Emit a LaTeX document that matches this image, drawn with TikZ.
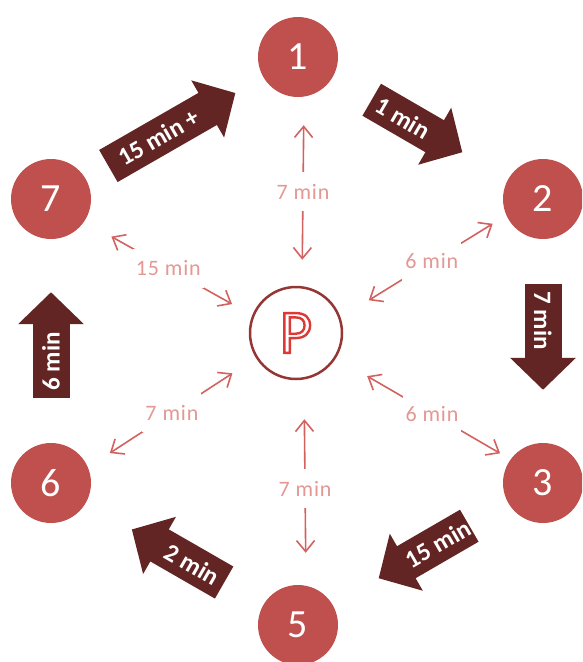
\documentclass[tikz,border=0pt]{standalone}
\usepackage{fontspec}
\setmainfont{Carlito}
\newfontfamily\walkfont[LetterSpace=4]{Carlito}
\usetikzlibrary{arrows.meta}
\definecolor{stopred}{HTML}{C0504D}
\definecolor{stepbrown}{HTML}{632523}
\definecolor{parkred}{HTML}{943634}
\definecolor{walkred}{HTML}{D2625F}
\definecolor{walktext}{HTML}{E39894}
\newcommand{\outlineglyph}[1]{\special{pdf:literal direct 2 Tr 2.4 w 0.863 0.227 0.212 RG}#1\special{pdf:literal direct 0 Tr}}
\tikzset{
  rtstop/.style={circle, fill=stopred, text=white, minimum size=80pt, inner sep=0pt, font=\fontsize{40}{44}\selectfont},
  rtpark/.style={circle, draw=parkred, line width=2.5pt, fill=white, minimum size=92pt, inner sep=0pt, text=white, font=\fontsize{62}{66}\selectfont},
  rtstep/.style={draw=stepbrown, line width=37pt, -{Triangle[length=32pt,width=64pt]}, shorten <=45pt, shorten >=53pt},
  rtsteptext/.style={sloped, text=white, font=\bfseries\fontsize{25}{28}\selectfont, inner sep=0pt},
  rtwalk/.style={draw=walkred, line width=1.6pt, {Straight Barb[length=11pt,width=18pt]}-{Straight Barb[length=11pt,width=18pt]}},
  rtlabel/.style={midway, fill=white, text=walktext, font=\walkfont\fontsize{22}{26}\selectfont, inner xsep=3pt, inner ysep=12pt},
}
\begin{document}
\begin{tikzpicture}[x=1pt,y=-1pt]
  \clip (0,0) rectangle (582,662);

  \node[rtstop] (s1) at (298,57) {1};
  \node[rtstop] (s2) at (543,199) {2};
  \node[rtstop] (s3) at (543,483) {3};
  \node[rtstop] (s5) at (298,625) {5};
  \node[rtstop] (s6) at (51,483) {6};
  \node[rtstop] (s7) at (51,199) {7};
  \node[rtpark] (park) at (296,333) {\outlineglyph{P}};

  \draw[rtstep, shorten <=26pt, shorten >=32pt] (s7) -- node[rtsteptext, pos=0.41] {15 min +} (s1);
  \draw[rtstep] (s1) -- node[rtsteptext, pos=0.40] {1 min} (s2);
  \draw[rtstep] (s2) -- node[rtsteptext, pos=0.40] {7 min} (s3);
  \draw[rtstep] (s3) -- node[rtsteptext, pos=0.40] {15 min} (s5);
  \draw[rtstep] (s5) -- node[rtsteptext, pos=0.40] {2 min} (s6);
  \draw[rtstep] (s6) -- node[rtsteptext, pos=0.40] {6 min} (s7);

  \draw[rtwalk, shorten <=26pt, shorten >=28pt] ([xshift=6pt]park.north) -- node[rtlabel] {7 min} ([xshift=6pt]s1.south);
  \draw[rtwalk, shorten <=39pt, shorten >=32pt] ([xshift=8pt]park.south) -- node[rtlabel, pos=0.53] {7 min} ([xshift=8pt]s5.north);
  \draw[rtwalk, shorten <=33pt, shorten >=16pt] (park.19) -- node[rtlabel, pos=0.55] {6 min} (s2.204);
  \draw[rtwalk, shorten <=36pt, shorten >=12pt] (park.328) -- node[rtlabel, pos=0.55] {6 min} (s3.144);
  \draw[rtwalk, shorten <=23pt, shorten >=31pt] (park.158) -- node[rtlabel] {15 min} (s7.326);
  \draw[rtwalk, shorten <=28pt, shorten >=26pt] (park.212) -- node[rtlabel] {7 min} (s6.23);
\end{tikzpicture}
\end{document}
